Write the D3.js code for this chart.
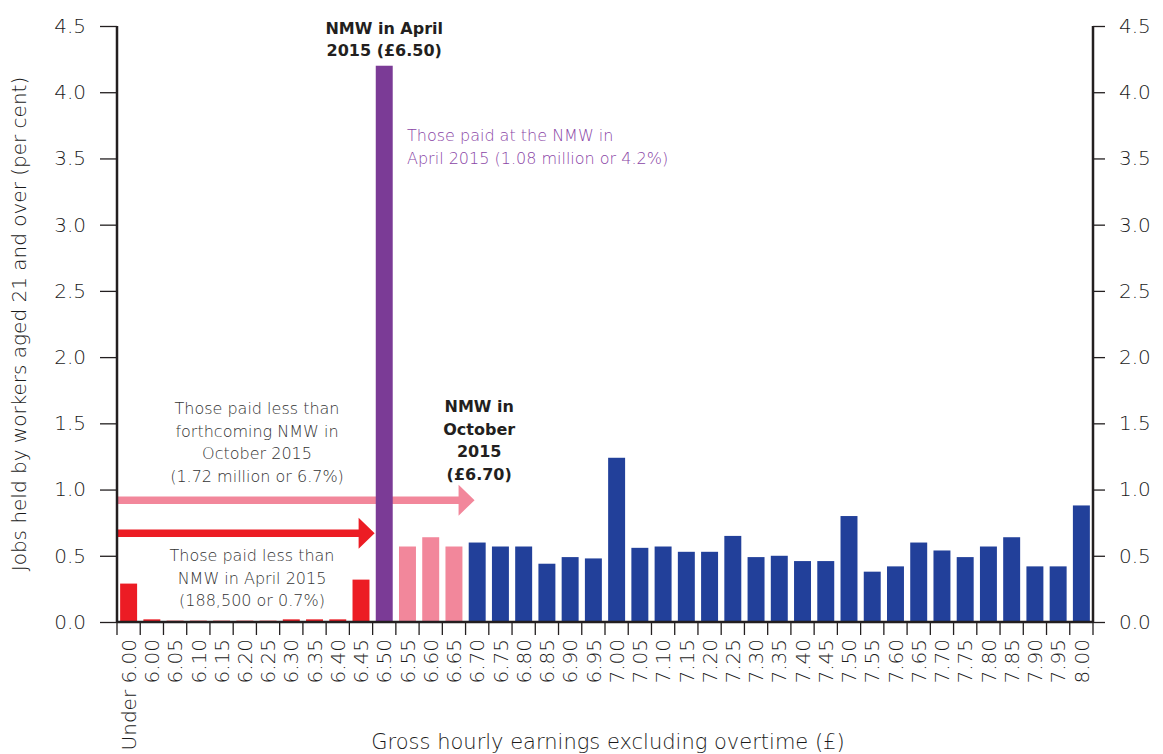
<!DOCTYPE html>
<html><head><meta charset="utf-8">
<script src="https://cdn.jsdelivr.net/npm/d3@7"></script>
<style>
html,body{margin:0;padding:0;background:#fff;}
svg text{font-family:"DejaVu Sans","Liberation Sans",sans-serif;}
</style></head>
<body>
<svg id="chart" width="1163" height="754"></svg>
<script>
const categories = ["Under 6.00","6.00","6.05","6.10","6.15","6.20","6.25","6.30","6.35","6.40","6.45","6.50","6.55","6.60","6.65","6.70","6.75","6.80","6.85","6.90","6.95","7.00","7.05","7.10","7.15","7.20","7.25","7.30","7.35","7.40","7.45","7.50","7.55","7.60","7.65","7.70","7.75","7.80","7.85","7.90","7.95","8.00"];
const values = [0.29,0.02,0.01,0.01,0.01,0.01,0.01,0.02,0.02,0.02,0.32,4.2,0.57,0.64,0.57,0.60,0.57,0.57,0.44,0.49,0.48,1.24,0.56,0.57,0.53,0.53,0.65,0.49,0.50,0.46,0.46,0.80,0.38,0.42,0.60,0.54,0.49,0.57,0.64,0.42,0.42,0.88];
// group: below April NMW, at April NMW, below October NMW, at/above October NMW
const groups = ["below","below","below","below","below","below","below","below","below","below","below","atApril","belowOct","belowOct","belowOct","above","above","above","above","above","above","above","above","above","above","above","above","above","above","above","above","above","above","above","above","above","above","above","above","above","above","above"];
const yTicks = [0,0.5,1.0,1.5,2.0,2.5,3.0,3.5,4.0,4.5];
const arrows = [
  {from:"Under 6.00", to:"6.65", y:0.92, group:"belowOct"},
  {from:"Under 6.00", to:"6.45", y:0.67, group:"below"}
];

const colors = {below:"#ec1c24", atApril:"#7b3b96", belowOct:"#f2879b", above:"#22409a"};
const svg = d3.select("#chart");
const m = {left:117, right:70, top:26, bottom:132};
const W = 1163, H = 754;
const x = d3.scaleBand().domain(categories).range([m.left, W - m.right]).paddingInner(0.27).paddingOuter(0.135);
const y = d3.scaleLinear().domain([0,4.5]).range([H - m.bottom, m.top]);
const axisColor = "#231f20", textColor = "#1a1a1a";
const LIGHT = "200";

// arrows (drawn beneath bars)
arrows.forEach(a => {
  const x0 = m.left + 1;
  const x1 = x(a.to) + x.bandwidth() + (x.step() - x.bandwidth())/2;
  const tip = a.group === "belowOct" ? x1 + 9 : x1 + 2;
  const yy = y(a.y);
  const th = 7.5, hh = 15.5, hl = 16;
  svg.append("path")
    .attr("d", `M${x0},${yy-th/2} L${tip-hl},${yy-th/2} L${tip-hl},${yy-hh} L${tip},${yy} L${tip-hl},${yy+hh} L${tip-hl},${yy+th/2} L${x0},${yy+th/2} Z`)
    .attr("fill", colors[a.group]);
});

// bars
svg.append("g").selectAll("rect").data(categories).join("rect")
  .attr("x", d => x(d))
  .attr("width", x.bandwidth())
  .attr("y", (d,i) => y(values[i]))
  .attr("height", (d,i) => y(0) - y(values[i]))
  .attr("fill", (d,i) => colors[groups[i]]);

// y axes
const yl = svg.append("g").attr("transform", `translate(${m.left},0)`)
  .call(d3.axisLeft(y).tickValues(yTicks).tickFormat(d3.format(".1f")).tickSize(17).tickPadding(14));
const yr = svg.append("g").attr("transform", `translate(${W - m.right},0)`)
  .call(d3.axisRight(y).tickValues(yTicks).tickFormat(d3.format(".1f")).tickSize(12).tickPadding(14));
[yl, yr].forEach(g => {
  g.select(".domain").attr("stroke", axisColor).attr("stroke-width", 2.5).attr("d", `M0,${y(4.5)}V${y(0)}`);
  g.selectAll(".tick line").attr("stroke", axisColor).attr("stroke-width", 1.3);
  g.selectAll(".tick text").attr("fill", textColor).style("font-size","20px").style("font-weight",LIGHT);
});

// x axis
const xa = svg.append("g").attr("transform", `translate(0,${y(0)})`)
  .call(d3.axisBottom(x).tickSize(0).tickPadding(0));
xa.select(".domain").remove();
svg.append("line").attr("x1", m.left).attr("x2", W - m.right).attr("y1", y(0)).attr("y2", y(0))
  .attr("stroke", axisColor).attr("stroke-width", 2.5);
const bounds = categories.map(c => x(c) - (x.step()-x.bandwidth())/2).concat([W - m.right]);
svg.append("g").selectAll("line").data(bounds).join("line")
  .attr("x1", d => d).attr("x2", d => d).attr("y1", y(0)).attr("y2", y(0) + 13)
  .attr("stroke", axisColor).attr("stroke-width", 1.3);
xa.selectAll(".tick text")
  .attr("transform", "rotate(-90)")
  .attr("text-anchor", "end")
  .attr("x", -17).attr("y", 0).attr("dy", "0.36em")
  .attr("fill", textColor).style("font-size","20px").style("font-weight",LIGHT);

// axis titles
svg.append("text").attr("transform", `translate(26,${(y(0)+y(4.5))/2}) rotate(-90)`)
  .attr("text-anchor","middle").attr("fill", textColor).style("font-size","20px").style("font-weight",LIGHT)
  .text("Jobs held by workers aged 21 and over (per cent)");
svg.append("text").attr("x", 608).attr("y", 749).attr("text-anchor","middle")
  .attr("fill", textColor).style("font-size","21px").style("font-weight",LIGHT)
  .text("Gross hourly earnings excluding overtime (£)");

// annotations
function multi(lines, xx, y0, dy, opts) {
  const t = svg.append("text").attr("x", xx).attr("y", y0)
    .attr("text-anchor", opts.anchor || "middle").attr("fill", opts.fill || "#333")
    .style("font-size", (opts.size||16)+"px").style("font-weight", opts.weight||LIGHT);
  lines.forEach((l,i) => t.append("tspan").attr("x", xx).attr("y", y0 + i*dy).text(l));
}
const cx = c => x(c) + x.bandwidth()/2;
multi(["NMW in April","2015 (£6.50)"], cx("6.50"), 34, 21.5, {weight:"bold", fill:"#231f20", size:16});
multi(["NMW in","October","2015","(£6.70)"], cx("6.70")+2, 412, 22.5, {weight:"bold", fill:"#231f20", size:16});
multi(["Those paid at the NMW in","April 2015 (1.08 million or 4.2%)"], 407, 141, 23, {anchor:"start", fill:"#8a45a6", size:16});
multi(["Those paid less than","forthcoming NMW in","October 2015","(1.72 million or 6.7%)"], 257, 414, 22.5, {fill:"#333", size:16});
multi(["Those paid less than","NMW in April 2015","(188,500 or 0.7%)"], 252, 561, 22.5, {fill:"#333", size:16});
</script>
</body></html>
